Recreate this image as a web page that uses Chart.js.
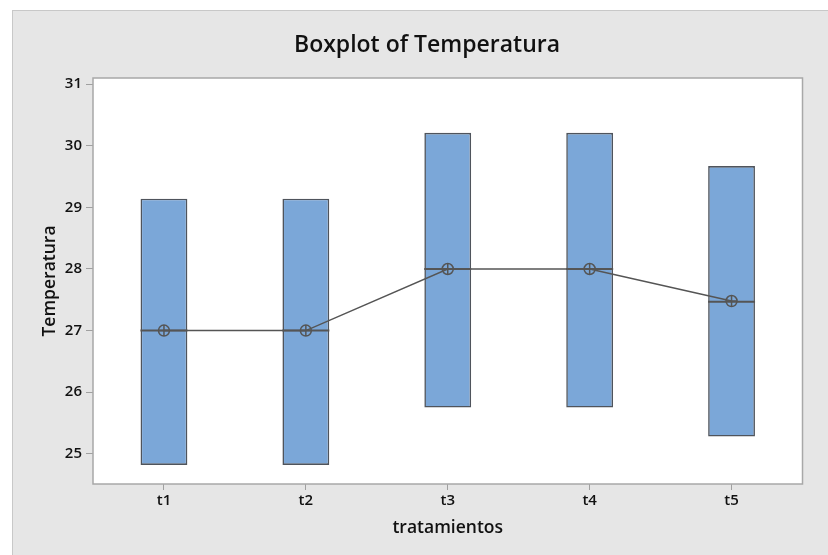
<!DOCTYPE html>
<html><head><meta charset="utf-8">
<script src="https://cdn.jsdelivr.net/npm/chart.js@4"></script>
<style>html,body{margin:0;padding:0;background:#fff;overflow:hidden;} #c{position:absolute;left:0;top:0;}</style>
</head><body><canvas id="c" width="828" height="555"></canvas>
<script>
const categories = ['t1', 't2', 't3', 't4', 't5'];
const q1 = [24.82, 24.82, 25.75, 25.75, 25.28];
const q3 = [29.14, 29.14, 30.21, 30.21, 29.67];
const medians = [27, 27, 28, 28, 27.47];
const means = [27, 27, 28, 28, 27.48];
const yTicks = [25, 26, 27, 28, 29, 30, 31];
const chartTitle = 'Boxplot of Temperatura';
const xTitle = 'tratamientos';
const yTitle = 'Temperatura';

const FONT = "'Open Sans', 'Noto Sans', sans-serif";
const INK = '#555555';

const bgPlugin = {
  id: 'bg',
  beforeDraw(chart) {
    const ctx = chart.ctx, a = chart.chartArea;
    ctx.save();
    ctx.fillStyle = '#ffffff';
    ctx.fillRect(0, 0, chart.width, chart.height);
    ctx.fillStyle = '#e6e6e6';
    ctx.fillRect(12, 10, chart.width - 12, chart.height - 10);
    ctx.strokeStyle = '#c8c8c8';
    ctx.lineWidth = 1;
    ctx.strokeRect(12.5, 10.5, chart.width + 10, chart.height + 10);
    ctx.fillStyle = '#ffffff';
    ctx.fillRect(a.left, a.top, a.right - a.left, a.bottom - a.top);
    ctx.restore();
  },
  afterDatasetsDraw(chart) {
    const ctx = chart.ctx, a = chart.chartArea;
    ctx.save();
    ctx.strokeStyle = '#a8a8a8';
    ctx.lineWidth = 1.5;
    ctx.strokeRect(a.left, a.top, a.right - a.left, a.bottom - a.top);
    ctx.restore();
  },
  afterDraw(chart) {
    const ctx = chart.ctx;
    ctx.save();
    ctx.fillStyle = '#111111';
    ctx.font = '600 23px ' + FONT;
    ctx.textAlign = 'center';
    ctx.textBaseline = 'middle';
    ctx.fillText(chartTitle, 427, 45);
    ctx.restore();
  }
};

new Chart(document.getElementById('c'), {
  type: 'bar',
  data: {
    labels: categories,
    datasets: [
      {
        type: 'line',
        data: means,
        borderColor: INK,
        borderWidth: 1.5,
        tension: 0,
        pointStyle: 'cross',
        pointRadius: 5.5,
        pointHoverRadius: 5.5,
        pointBorderColor: INK,
        pointBorderWidth: 1.5,
        showLine: false,
        order: 0
      },
      {
        type: 'line',
        data: means,
        borderColor: INK,
        borderWidth: 1.5,
        tension: 0,
        pointStyle: 'circle',
        pointRadius: 5.5,
        pointHoverRadius: 5.5,
        pointBackgroundColor: 'rgba(0,0,0,0)',
        pointBorderColor: INK,
        pointBorderWidth: 1.5,
        order: 1
      },
      {
        type: 'line',
        data: medians,
        showLine: false,
        pointStyle: 'line',
        pointRadius: 23.5,
        pointHoverRadius: 23.5,
        pointBorderColor: INK,
        pointBorderWidth: 2,
        order: 2
      },
      {
        type: 'bar',
        data: categories.map((c, i) => [q1[i], q3[i]]),
        backgroundColor: '#7ba7d8',
        borderColor: '#4f545c',
        borderWidth: 1.6,
        borderSkipped: false,
        categoryPercentage: 1,
        barPercentage: 0.33,
        order: 3
      }
    ]
  },
  options: {
    responsive: false,
    devicePixelRatio: 1,
    animation: false,
    events: [],
    layout: { padding: { left: 33, right: 25, top: 78, bottom: 0 } },
    plugins: { legend: { display: false }, tooltip: { enabled: false }, title: { display: false } },
    scales: {
      x: {
        type: 'category',
        offset: true,
        grid: { display: true, drawOnChartArea: false, drawTicks: true, tickLength: 6, color: '#a0a0a0', offset: false },
        border: { display: false },
        ticks: { color: '#111111', font: { family: FONT, size: 15, weight: '600' }, padding: 2 },
        title: { display: true, text: xTitle, color: '#111111', font: { family: FONT, size: 17.5, weight: '600' }, padding: { top: 0, bottom: 16.5 } },
        afterFit(s) { s.height = 71; }
      },
      y: {
        type: 'linear',
        min: 24.51,
        max: 31.1,
        afterBuildTicks(s) { s.ticks = yTicks.map(v => ({ value: v })); },
        grid: { display: true, drawOnChartArea: false, drawTicks: true, tickLength: 7, color: '#a0a0a0' },
        border: { display: false },
        ticks: { color: '#111111', font: { family: FONT, size: 15, weight: '600' }, padding: 4 },
        title: { display: true, text: yTitle, color: '#111111', font: { family: FONT, size: 17.5, weight: '600' }, padding: { top: 6.5, bottom: 0 } },
        afterFit(s) { s.width = 60; }
      }
    }
  },
  plugins: [bgPlugin]
});
</script>
</body></html>
